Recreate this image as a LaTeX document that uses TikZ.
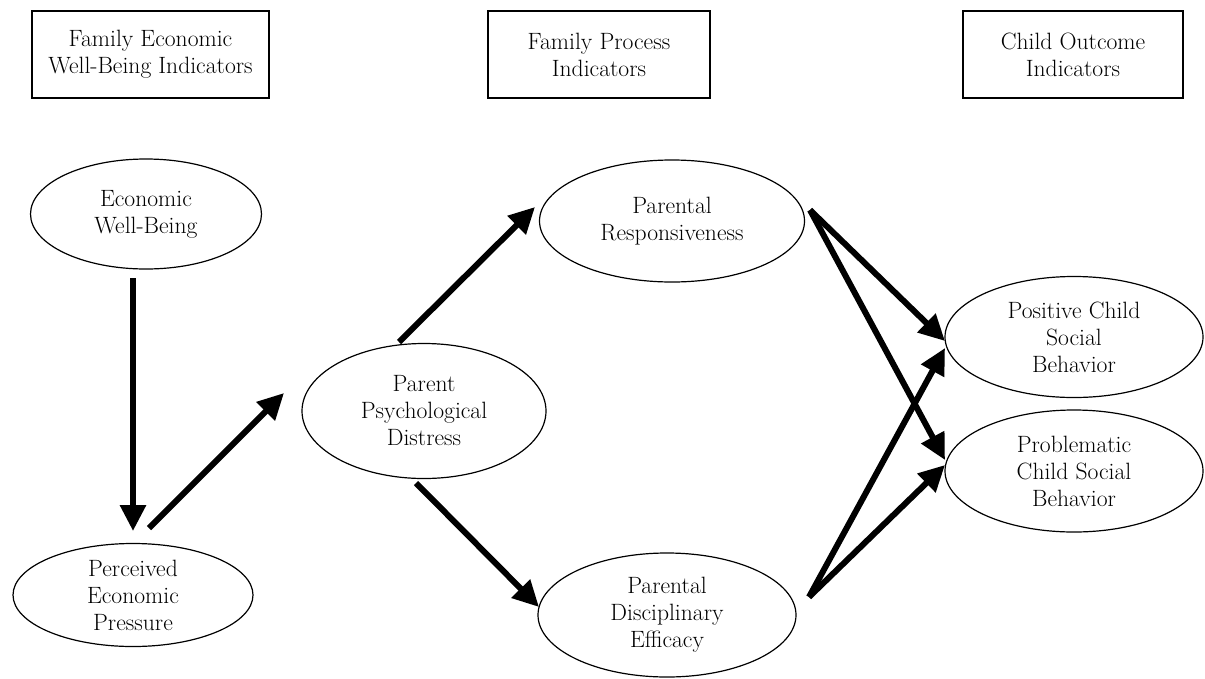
\documentclass[tikz,border=0pt]{standalone}
\usepackage{fontspec}
\usetikzlibrary{shapes.geometric,arrows.meta}
\tikzset{
  txt/.style={font=\fontsize{23.6}{27}\selectfont, align=center, inner sep=0pt},
  hdr/.style={txt, draw, line width=1.2pt, rectangle, minimum height=87pt},
  ell/.style={txt, draw, line width=1.2pt, ellipse},
  arr/.style={line width=6pt, -{Triangle[length=26pt,width=25pt]}}
}
\begin{document}
\begin{tikzpicture}[x=1pt,y=-1pt]
\useasboundingbox (0,0) rectangle (1205,678);
% header boxes
\node[hdr, minimum width=237pt] (h1) at (150.5,54.5) {Family Economic\\Well-Being Indicators};
\node[hdr, minimum width=222pt] (h2) at (599,54.5) {Family Process\\Indicators};
\node[hdr, minimum width=220pt] (h3) at (1073,54.5) {Child Outcome\\Indicators};
% ellipses
\node[ell, minimum width=231pt, minimum height=110pt] (ewb) at (146,214) {Economic\\Well-Being};
\node[ell, minimum width=240pt, minimum height=103pt] (pep) at (133,595) {Perceived\\Economic\\Pressure};
\node[ell, minimum width=244pt, minimum height=135pt] (ppd) at (424,411) {Parent\\Psychological\\Distress};
\node[ell, minimum width=265pt, minimum height=122pt] (resp) at (672,221) {Parental\\Responsiveness};
\node[ell, minimum width=258pt, minimum height=124pt] (pde) at (667,615) {Parental\\Disciplinary\\Efficacy};
\node[ell, minimum width=258pt, minimum height=121pt] (pos) at (1074,337) {Positive Child\\Social\\Behavior};
\node[ell, minimum width=258pt, minimum height=122pt] (prob) at (1074,471) {Problematic\\Child Social\\Behavior};
% connectors
\draw[arr] ([shift={(-13,64)}]ewb.center) -- ([shift={(0,-64)}]pep.center);
\draw[arr] ([shift={(16,-67)}]pep.center) -- ([shift={(-140,-18)}]ppd.center);
\draw[arr] ([shift={(-25,-69)}]ppd.center) -- ([shift={(-137,-14)}]resp.center);
\draw[arr] ([shift={(-8,72)}]ppd.center) -- ([shift={(-128,-8)}]pde.center);
\draw[arr] ([shift={(138,-11)}]resp.center) -- ([shift={(-129,4)}]pos.center);
\draw[arr] ([shift={(138,-11)}]resp.center) -- ([shift={(-129,-11)}]prob.center);
\draw[arr] ([shift={(142,-18)}]pde.center) -- ([shift={(-129,11)}]pos.center);
\draw[arr] ([shift={(142,-18)}]pde.center) -- ([shift={(-129,-6)}]prob.center);
\end{tikzpicture}
\end{document}
